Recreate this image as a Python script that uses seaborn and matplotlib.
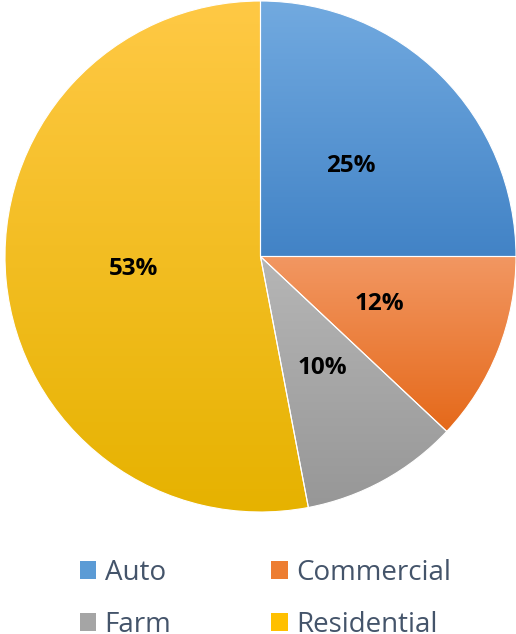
import numpy as np
import matplotlib
matplotlib.use("Agg")
import matplotlib.pyplot as plt
from matplotlib.colors import LinearSegmentedColormap
from matplotlib.patches import Patch
import seaborn as sns

# Share of claims by line of business
categories = ["Auto", "Commercial", "Farm", "Residential"]
shares = [25, 12, 10, 53]
# (top colour, bottom colour) for each slice's vertical gradient
top_colors = ["#72AAE0", "#F29762", "#B6B6B6", "#FFC945"]
bottom_colors = ["#4283C6", "#E5691A", "#979797", "#E6B200"]
mid_colors = ["#5B9BD5", "#ED7D31", "#A5A5A5", "#FFC000"]

sns.set_theme(style="white")
plt.rcParams["font.family"] = ["Open Sans", "DejaVu Sans"]

fig = plt.figure(figsize=(5.16, 6.34), dpi=100)
ax = fig.add_axes([5 / 516, 122 / 634, 511 / 516, 511 / 634])

wedges, _, autotexts = ax.pie(
    shares,
    startangle=90,
    counterclock=False,
    colors=mid_colors,
    autopct=lambda p: f"{round(p)}%",
    pctdistance=0.5,
    wedgeprops=dict(edgecolor="white", linewidth=0.8),
    textprops=dict(fontsize=17.5, fontweight="bold", color="black"),
)

# Fill each slice with its own top-to-bottom gradient, clipped to the slice
for w, c_top, c_bot in zip(wedges, top_colors, bottom_colors):
    t = np.radians(np.linspace(w.theta1, w.theta2, 200))
    xs = np.concatenate([[w.center[0]], w.center[0] + w.r * np.cos(t)])
    ys = np.concatenate([[w.center[1]], w.center[1] + w.r * np.sin(t)])
    cmap = LinearSegmentedColormap.from_list("g", [c_bot, c_top])
    grad = np.linspace(0, 1, 256).reshape(-1, 1)
    im = ax.imshow(grad, cmap=cmap, origin="lower", aspect="auto",
                   extent=[xs.min(), xs.max(), ys.min(), ys.max()],
                   zorder=w.get_zorder() + 0.1, interpolation="bilinear")
    im.set_clip_path(w)
    w.set_facecolor("none")
    w.set_zorder(w.get_zorder() + 0.2)

for t in autotexts:
    t.set_zorder(5)

ax.set_xlim(-1, 1)
ax.set_ylim(-1, 1)
ax.set_aspect("equal")
ax.axis("off")

# Legend laid out row-wise: Auto, Commercial / Farm, Residential
order = [0, 2, 1, 3]
handles = [Patch(facecolor=mid_colors[i], edgecolor="none") for i in order]
labels = [categories[i] for i in order]
fig.legend(handles, labels, ncol=2, loc="center",
           bbox_to_anchor=(0.5146, 0.0555), frameon=False,
           fontsize=20, labelcolor="#44546A",
           handlelength=0.6, handleheight=0.6, handletextpad=0.3,
           columnspacing=3.6, labelspacing=0.85, borderpad=0)

fig.savefig("out.png", dpi=100)
